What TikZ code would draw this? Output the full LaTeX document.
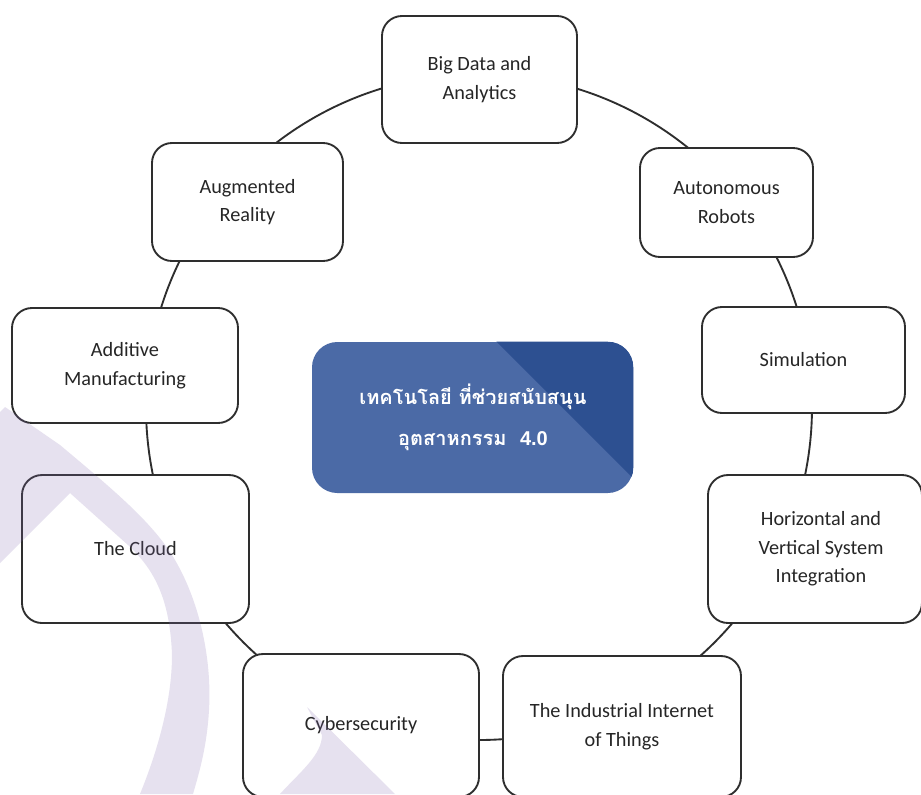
\documentclass[tikz,border=0pt]{standalone}
\usepackage{fontspec}
\setmainfont{Carlito}
\newfontfamily\thaifont[Script=Thai]{Loma}
\newfontfamily\numfont{Liberation Sans}
\definecolor{boxline}{HTML}{2E2E2E}
\definecolor{boxtext}{HTML}{262626}
\definecolor{centerlight}{HTML}{4B6AA6}
\definecolor{centerdark}{HTML}{2D5091}
\definecolor{wmcol}{RGB}{130,105,175}
\tikzset{
  techbox/.style={draw=boxline, line width=1.4pt, fill=white, rounded corners=15pt,
    inner sep=0pt, align=center, text=boxtext,
    font=\fontsize{15.2}{21.4}\selectfont},
  ringline/.style={draw=boxline, line width=1.4pt},
  wmark/.style={fill=wmcol, fill opacity=0.2, draw=none},
  centertext/.style={text=white, align=center, font=\thaifont\bfseries\fontsize{15}{30.75}\selectfont}
}
\begin{document}
\begin{tikzpicture}[x=0.75pt,y=-0.75pt]
\useasboundingbox (0,0) rectangle (921,794);
\fill[white] (0,0) rectangle (921,794);
\clip (0,0) rectangle (921,794);

% ring behind the boxes
\node[circle, ringline, minimum size=499.5pt, inner sep=0pt] (ring) at (479,407) {};

% boxes
\node[techbox, minimum width=146.25pt, minimum height=95.25pt] (bigdata) at (479.5,79.5) {Big Data and\\Analytics};
\node[techbox, minimum width=129.75pt, minimum height=81.75pt] (robots) at (726.5,202.5) {Autonomous\\Robots};
\node[techbox, minimum width=152.25pt, minimum height=79.5pt] (sim) at (803.5,360) {Simulation};
\node[techbox, minimum width=160.5pt, minimum height=111pt] (horiz) at (815,549) {};
\node[align=center, text=boxtext, font=\fontsize{15.2}{21.4}\selectfont, inner sep=0pt] (horiztext) at (821,549) {Horizontal and\\Vertical System\\Integration};
\node[techbox, minimum width=178.5pt, minimum height=105.75pt] (iiot) at (622,726.5) {The Industrial Internet\\of Things};
\node[techbox, minimum width=177pt, minimum height=107.25pt] (cyber) at (361,725.5) {Cybersecurity};
\node[techbox, minimum width=170.25pt, minimum height=111pt] (cloud) at (135.5,549) {The Cloud};
\node[techbox, minimum width=169.5pt, minimum height=86.25pt] (additive) at (125,365.5) {Additive\\Manufacturing};
\node[techbox, minimum width=143.25pt, minimum height=88.5pt] (aug) at (247.5,202) {Augmented\\Reality};

% centre box
\node[rounded corners=19pt, fill=centerlight, minimum width=240.75pt, minimum height=113.25pt, inner sep=0pt] (center) at (472.5,417.5) {};
\begin{scope}
  \clip[rounded corners=19pt] (center.north west) rectangle (center.south east);
  \fill[centerdark] (485,330) -- (660,330) -- (660,505) -- cycle;
\end{scope}
\node[centertext] (centertext) at (473,417.5) {เทคโนโลยี ที่ช่วยสนับสนุน\\อุตสาหกรรม\ \ {\numfont\bfseries 4.0}};

% watermark
\fill[wmark] (5,407) -- (60,445) .. controls (110,487) and (150,520) .. (172,555)
  .. controls (200,600) and (212,660) .. (209,710)
  .. controls (207,745) and (200,770) .. (193,794)
  -- (140,794) .. controls (158,750) and (172,700) .. (172,655)
  .. controls (170,600) and (155,570) .. (128,545)
  -- (70,493) -- (0,563) -- (0,412) -- cycle;
\fill[wmark] (307,707) -- (395,794) -- (280,794)
  .. controls (300,772) and (322,755) .. (322,735) -- cycle;
\end{tikzpicture}
\end{document}
